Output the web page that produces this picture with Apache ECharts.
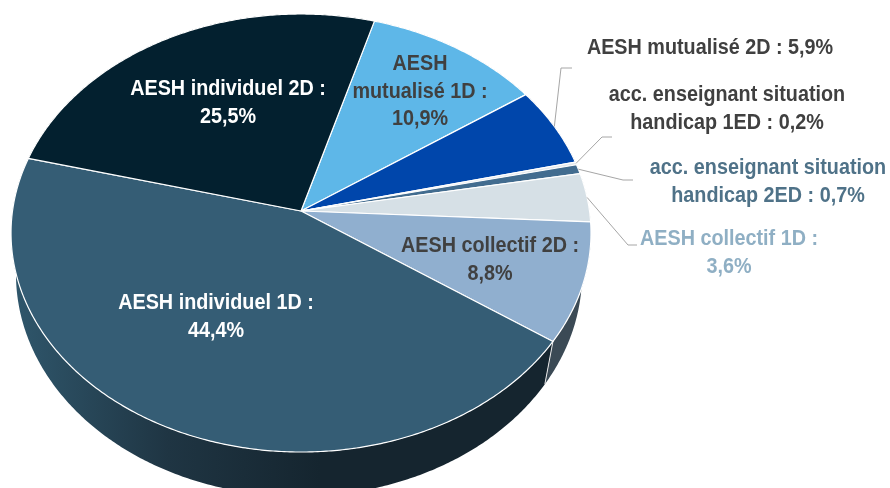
<!DOCTYPE html>
<html><head><meta charset="utf-8">
<style>html,body{margin:0;padding:0;background:#fff}#c{width:890px;height:488px}</style>
<script src="https://cdn.jsdelivr.net/npm/echarts@6/dist/echarts.min.js"></script>
</head><body><div id="c"></div>
<script>
// --- data (clockwise from the 10,9 % slice)
const categories = ['AESH mutualisé 1D','AESH mutualisé 2D','acc. enseignant situation handicap 1ED','acc. enseignant situation handicap 2ED','AESH collectif 1D','AESH collectif 2D','AESH individuel 1D','AESH individuel 2D'];
const values = [10.9, 5.9, 0.2, 0.7, 3.6, 8.8, 44.4, 25.5];
const labelLines = [
  ['AESH','mutualisé 1D :','10,9%'],
  ['AESH mutualisé 2D : 5,9%'],
  ['acc. enseignant situation','handicap 1ED : 0,2%'],
  ['acc. enseignant situation','handicap 2ED : 0,7%'],
  ['AESH collectif 1D :','3,6%'],
  ['AESH collectif 2D :','8,8%'],
  ['AESH individuel 1D :','44,4%'],
  ['AESH individuel 2D :','25,5%']
];
// --- styles and layout
const faceColors = ['#5eb7e8','#0046ab','#e4e8ec','#426c8f','#d6e0e6','#90afcf','#355d75','#03202f'];
const sideColors = ['#2c5a75','#00245a','#777','#223a4d','#6b7276','#3b4a55','#1a2c38','#021018'];
const labelColors = ['#404040','#404040','#404040','#4f7288','#8fafc4','#404040','#ffffff','#ffffff'];
const labelPos = [[420,92],[710,48],[727,109],[768,182],[729,253],[490,260],[216,317],[228,103]];
const leaders = [null,[[561,68],[572,68]],[[602,137],[612,137]],[[623,180],[633,180]],[[628,245],[637,245]],null,null,null];
const lineStep = 27.5;
const fontSpec = 'bold 21.5px "Liberation Sans",Arial,sans-serif';
const textSqueeze = 0.92;
const startDeg = 16.2;
const topDisc = {cx:301,y0:211,A:288.5,B:216.8,k:0.1005};
const lowDisc = {cx:299,y0:252,A:281.6,B:219.8,k:0.1};

const total = values.reduce((a,b)=>a+b,0);
const starts = []; values.reduce((acc,v,i)=>{starts[i]=acc;return acc+v/total*360;},startDeg);
function project(d,deg){const r=deg*Math.PI/180,u=Math.sin(r),v=Math.cos(r),w=1+d.k*v;return [d.cx+d.A*u/w,d.y0-d.B*v/w];}
function arc(d,a,b){const n=Math.max(2,Math.ceil((b-a)*2)),p=[];for(let i=0;i<=n;i++)p.push(project(d,a+(b-a)*i/n));return p;}
const apex = [topDisc.cx,topDisc.y0];

const chart = echarts.init(document.getElementById('c'),null,{renderer:'canvas'});
const rows = values.map((v,i)=>[i,v]);
function sideItem(p){
  const i=p.dataIndex,a=starts[i],b=a+values[i]/total*360;
  const top=arc(topDisc,a,b),low=arc(lowDisc,a,b).reverse();
  let fill=sideColors[i];
  if(i===6) fill=new echarts.graphic.LinearGradient(16,0,320,0,[{offset:0,color:'#2f566b'},{offset:.5,color:'#1f3543'},{offset:1,color:'#15252f'}],true);
  return {type:'group',children:[
    {type:'polygon',shape:{points:top.concat(low)},style:{fill:fill}},
    {type:'polyline',shape:{points:[project(topDisc,a),project(lowDisc,a)]},style:{stroke:'#e8e8e8',lineWidth:1,fill:null}}
  ]};
}
function faceItem(p){
  const i=p.dataIndex,a=starts[i],b=a+values[i]/total*360;
  return {type:'polygon',shape:{points:[apex].concat(arc(topDisc,a,b))},style:{fill:faceColors[i],stroke:'#ffffff',lineWidth:1.2,lineJoin:'round'}};
}
function labelItem(p){
  const i=p.dataIndex,a=starts[i],b=a+values[i]/total*360,kids=[];
  if(leaders[i]){
    kids.push({type:'polyline',shape:{points:[project(topDisc,(a+b)/2)].concat(leaders[i])},style:{stroke:'#a6a6a6',lineWidth:1,fill:null}});
  }
  const L=labelLines[i],n=L.length;
  L.forEach((t,j)=>kids.push({type:'text',x:labelPos[i][0],y:labelPos[i][1]+(j-(n-1)/2)*lineStep,scaleX:textSqueeze,style:{text:t,x:0,y:0,align:'center',verticalAlign:'middle',font:fontSpec,fill:labelColors[i]}}));
  return {type:'group',children:kids};
}
chart.setOption({
  animation:false,backgroundColor:'#ffffff',tooltip:{show:false},
  series:[
    {type:'custom',name:'side',coordinateSystem:'none',z:1,silent:true,data:rows,renderItem:sideItem},
    {type:'custom',name:'share',coordinateSystem:'none',z:2,silent:true,data:rows,renderItem:faceItem},
    {type:'custom',name:'labels',coordinateSystem:'none',z:3,silent:true,data:rows,renderItem:labelItem}
  ]
});
</script></body></html>
